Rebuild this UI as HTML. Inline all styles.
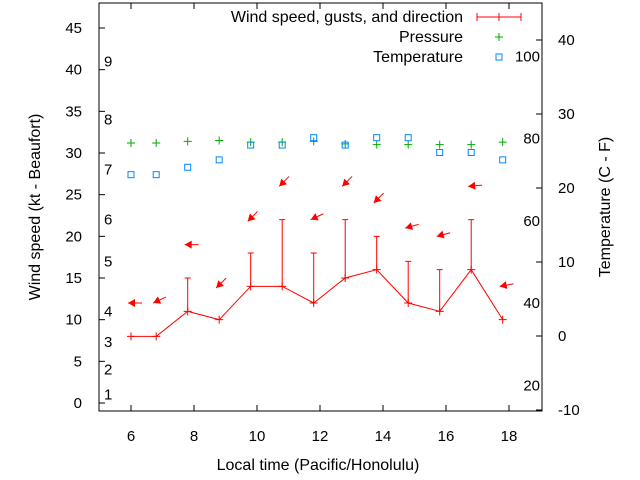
<!DOCTYPE html>
<html><head><meta charset="utf-8"><style>
html,body{margin:0;padding:0;background:#fff}
svg{display:block;font-family:"Liberation Sans",sans-serif}
</style></head><body>
<svg id="c" width="640" height="480" viewBox="0 0 640 480">
<rect x="99" y="3" width="443" height="408" fill="none" stroke="#000" stroke-width="1"/>
<g id="axes"></g><g id="marks"></g>
<text x="318" y="470" font-size="16" text-anchor="middle">Local time (Pacific/Honolulu)</text>
<text transform="translate(40,207) rotate(-90)" font-size="16" text-anchor="middle">Wind speed (kt - Beaufort)</text>
<text transform="translate(610,207) rotate(-90)" font-size="16" text-anchor="middle">Temperature (C - F)</text>
<g>
<text x="463" y="22" font-size="16" text-anchor="end">Wind speed, gusts, and direction</text>
<line x1="477" y1="17" x2="521" y2="17" stroke="#f00"/><line x1="477" y1="13" x2="477" y2="21" stroke="#f00"/><line x1="521" y1="13" x2="521" y2="21" stroke="#f00"/><line x1="499" y1="13" x2="499" y2="21" stroke="#f00"/>
<text x="463" y="42" font-size="16" text-anchor="end">Pressure</text>
<path d="M495 37h8M499 33v8" stroke="#0a0"/>
<text x="463" y="62" font-size="16" text-anchor="end">Temperature</text>
<rect x="496" y="54" width="6" height="6" fill="none" stroke="#08f"/>
</g>
</svg>
<script>
const times=[6,6.8,7.8,8.8,9.8,10.8,11.8,12.8,13.8,14.8,15.8,16.8,17.8];
const speeds=[8,8,11,10,14,14,12,15,16,12,11,16,10];
const gusts=[null,null,15,null,18,22,18,22,20,17,16,22,null];
const arrowLevels=[12,12,19,13.8,21.8,26,22,26,24,21,20,26,14];
const windDirs=[90,65,90,45,45,45,65,45,45,75,75,85,80];
const pressure=[31.2,31.2,31.4,31.5,31.3,31.3,31.4,31.1,31.0,31.0,31.0,31.0,31.3];
const tempC=[21.8,21.8,22.8,23.8,25.8,25.8,26.8,25.8,26.8,26.8,24.8,24.8,23.8];
const xTicks=[6,8,10,12,14,16,18];
const yTicks=[0,5,10,15,20,25,30,35,40,45];
const rTicks=[-10,0,10,20,30,40];
const beaufort=[1,2,3,4,5,6,7,8,9];
const beaufortKt=[1,4,7.3,11,17,22,28,34,41];
const fahr=[20,40,60,80,100];
const X=t=>131+(t-6)*31.5;
const Y=v=>403-v*8.333;
const R=c=>336-c*7.4;
const NS='http://www.w3.org/2000/svg';
const ax=document.getElementById('axes'),mk=document.getElementById('marks');
function mkEl(tag,at,p){const e=document.createElementNS(NS,tag);for(const k in at)e.setAttribute(k,at[k]);p.appendChild(e);return e;}
xTicks.forEach(t=>{
 const x=X(t);
 let e=mkEl('line',{x1:x,y1:411,x2:x,y2:405,stroke:'#000'},ax);
 
 
 mkEl('line',{x1:x,y1:3,x2:x,y2:9,stroke:'#000'},ax);
 e=mkEl('text',{x:x,y:441,'font-size':15,'text-anchor':'middle'},ax);e.textContent=t;
 
 
});
yTicks.forEach(v=>{
 const y=Y(v);
 mkEl('line',{x1:99,y1:y,x2:105,y2:y,stroke:'#000'},ax);
 let e=mkEl('text',{x:82,y:y+5,'font-size':15,'text-anchor':'end'},ax);e.textContent=v;
 
 
});
rTicks.forEach(v=>{
 const y=R(v);
 mkEl('line',{x1:542,y1:y,x2:536,y2:y,stroke:'#000'},ax);
 let e=mkEl('text',{x:558,y:y+5,'font-size':15},ax);e.textContent=v;
 
 
});
beaufort.forEach((b,i)=>{
 let e=mkEl('text',{x:104,y:Y(beaufortKt[i])+5,'font-size':15},ax);e.textContent=b;
 
 
});
fahr.forEach(f=>{
 let e=mkEl('text',{x:540,y:R((f-32)*5/9)+5,'font-size':15,'text-anchor':'end'},ax);e.textContent=f;
 
 
});
let pts=times.map((t,i)=>X(t)+','+Y(speeds[i])).join(' ');
let pl=mkEl('polyline',{points:pts,fill:'none',stroke:'#f00'},mk);


times.forEach((t,i)=>{
 const x=X(t),y=Y(speeds[i]);
 let p=mkEl('path',{d:`M${x-4} ${y}h8M${x} ${y-4}v8`,stroke:'#f00'},mk);
 
 
 if(gusts[i]!=null){
  const g=Y(gusts[i]);
  let q=mkEl('path',{d:`M${x} ${y}V${g}M${x-3} ${g}h6`,stroke:'#f00'},mk);
  
  
 }
 const hx=X(t)-3,hy=Y(arrowLevels[i]),th=windDirs[i]*Math.PI/180,L=14;
 const ux=Math.sin(th),uy=-Math.cos(th);
 const tx=hx+L*ux,ty=hy+L*uy;
 const bx=hx+7*ux,by=hy+7*uy,px=-uy,py=ux;
 let a=mkEl('g',{},mk);
 
 
 mkEl('line',{x1:hx,y1:hy,x2:tx,y2:ty,stroke:'#f00'},a);
 mkEl('polygon',{points:`${hx},${hy} ${bx+4*px},${by+4*py} ${bx-4*px},${by-4*py}`,fill:'#f00'},a);
 const pyy=Y(pressure[i]);
 let pr=mkEl('path',{d:`M${x-4} ${pyy}h8M${x} ${pyy-4}v8`,stroke:'#0a0'},mk);
 
 
 const ty2=R(tempC[i]);
 let s=mkEl('rect',{x:x-3,y:ty2-3,width:6,height:6,fill:'none',stroke:'#08f'},mk);
 
 
});
</script>
</body></html>
